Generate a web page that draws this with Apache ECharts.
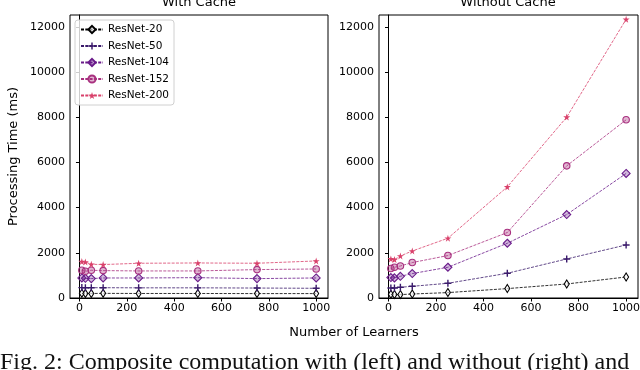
<!DOCTYPE html>
<html>
<head>
<meta charset="utf-8">
<script src="https://cdn.jsdelivr.net/npm/echarts@6/dist/echarts.min.js"></script>
<style>
  html, body { margin: 0; padding: 0; background: #fff; }
  #chart { width: 640px; height: 370px; }
</style>
</head>
<body>
<div id="chart"></div>
<script>
// number of learners (x)
const learners = [10, 25, 50, 100, 250, 500, 750, 1000];
const models = ['ResNet-20', 'ResNet-50', 'ResNet-104', 'ResNet-152', 'ResNet-200'];

// with cache (ms)
const cache20  = [205, 200, 200, 205, 200, 200, 195, 195];
const cache50  = [460, 455, 455, 455, 450, 450, 440, 430];
const cache104 = [886, 872, 858, 886, 886, 900, 858, 886];
const cache152 = [1227, 1182, 1227, 1212, 1197, 1197, 1257, 1284];
const cache200 = [1612, 1594, 1492, 1479, 1537, 1550, 1537, 1639];

// without cache (ms)
const noCache20  = [164, 150, 150, 177, 239, 416, 620, 930];
const noCache50  = [443, 443, 474, 518, 651, 1094, 1727, 2347];
const noCache104 = [903, 890, 961, 1080, 1360, 2422, 3693, 5509];
const noCache152 = [1302, 1360, 1417, 1568, 1878, 2896, 5846, 7883];
const noCache200 = [1730, 1700, 1860, 2080, 2644, 4916, 8003, 12330];

const xTicks = [0, 200, 400, 600, 800, 1000];
const yTicks = [0, 2000, 4000, 6000, 8000, 10000, 12000];

const colors = ['#000000', '#3a1a6b', '#6a1b8a', '#a8307f', '#d9416b'];
const STAR = 'path://M50,0L61,35L98,35L68,57L79,91L50,70L21,91L32,57L2,35L39,35Z';
const PLUS = 'path://M4,0H6V4H10V6H6V10H4V6H0V4H4Z';

const markers = [
  { symbol: 'diamond', size: [5, 8], fill: 'rgba(255,255,255,0.6)' },
  { symbol: PLUS, size: 7, fill: null },
  { symbol: 'diamond', size: 8, fill: 'rgba(106,27,138,0.3)' },
  { symbol: 'circle', size: 6.5, fill: 'rgba(168,48,127,0.35)' },
  { symbol: STAR, size: 7, fill: null }
];

const font = 'DejaVu Sans';

function pair(ys) {
  return learners.map((x, i) => [x, ys[i]]);
}

function mkSeries(idx, ys, gi) {
  const m = markers[idx];
  return {
    name: models[idx],
    type: 'line',
    xAxisIndex: gi,
    yAxisIndex: gi,
    data: pair(ys),
    symbol: m.symbol,
    symbolSize: m.size,
    showAllSymbol: true,
    animation: false,
    lineStyle: { color: colors[idx], width: 0.8, type: [3, 1.3] },
    itemStyle: {
      color: m.fill || colors[idx],
      borderColor: colors[idx],
      borderWidth: m.fill ? 1.1 : 0
    },
    z: 2 + idx
  };
}

const plain = v => String(v);

function xAxisCfg(gi) {
  return {
    type: 'value', gridIndex: gi, min: -40, max: 1050,
    splitLine: { show: false },
    axisLine: { lineStyle: { color: '#000', width: 1 } },
    axisTick: { customValues: xTicks, length: 3.5, lineStyle: { color: '#000' } },
    axisLabel: { customValues: xTicks, formatter: plain, color: '#000', fontSize: 11, fontFamily: font, margin: 5 }
  };
}

function yAxisCfg(gi) {
  const a = {
    type: 'value', gridIndex: gi, min: 0, max: 12520,
    splitLine: { show: false },
    axisLine: { show: true, lineStyle: { color: '#000', width: 1 } },
    axisTick: { show: true, customValues: yTicks, length: 3.5, lineStyle: { color: '#000' } },
    axisLabel: { customValues: yTicks, formatter: plain, color: '#000', fontSize: 11, fontFamily: font, margin: 5 }
  };
  if (gi === 0) {
    a.name = 'Processing Time (ms)';
    a.nameLocation = 'middle';
    a.nameGap = 50;
    a.nameTextStyle = { fontSize: 13, fontFamily: font, color: '#000' };
  }
  return a;
}

const chart = echarts.init(document.getElementById('chart'));

const series = [];
[cache20, cache50, cache104, cache152, cache200].forEach((ys, i) => series.push(mkSeries(i, ys, 0)));
[noCache20, noCache50, noCache104, noCache152, noCache200].forEach((ys, i) => series.push(mkSeries(i, ys, 1)));

const gridBase = { top: 15, height: 283, show: true, borderColor: '#000', borderWidth: 1,
  backgroundColor: 'transparent', containLabel: false, outerBoundsMode: 'none' };

chart.setOption({
  backgroundColor: '#fff',
  animation: false,
  grid: [
    Object.assign({ left: 70, width: 258 }, gridBase),
    Object.assign({ left: 379, width: 259 }, gridBase)
  ],
  xAxis: [xAxisCfg(0), xAxisCfg(1)],
  yAxis: [yAxisCfg(0), yAxisCfg(1)],
  legend: {
    data: models,
    orient: 'vertical',
    left: 75, top: 20,
    padding: [4, 5, 4, 5],
    itemWidth: 22, itemHeight: 9, itemGap: 5.5,
    backgroundColor: 'rgba(255,255,255,0.8)',
    borderColor: '#d0d0d0', borderWidth: 1, borderRadius: 3,
    textStyle: { fontSize: 10.5, fontFamily: font, color: '#000', padding: [0, 0, 0, 0] }
  },
  graphic: [
    { type: 'text', x: 199, y: 3, style: { text: 'With Cache', fontSize: 13, fontFamily: font, fill: '#000', textAlign: 'center', textVerticalAlign: 'middle' } },
    { type: 'text', x: 508, y: 3, style: { text: 'Without Cache', fontSize: 13, fontFamily: font, fill: '#000', textAlign: 'center', textVerticalAlign: 'middle' } },
    { type: 'text', x: 354, y: 333, style: { text: 'Number of Learners', fontSize: 13, fontFamily: font, fill: '#000', textAlign: 'center', textVerticalAlign: 'middle' } },
    { type: 'text', x: 0, y: 351, style: { text: 'Fig. 2: Composite computation with (left) and without (right) and', fontSize: 24, fontFamily: 'Liberation Serif', fill: '#111', textAlign: 'left', textVerticalAlign: 'top' } }
  ],
  series: series
});
</script>
</body>
</html>
